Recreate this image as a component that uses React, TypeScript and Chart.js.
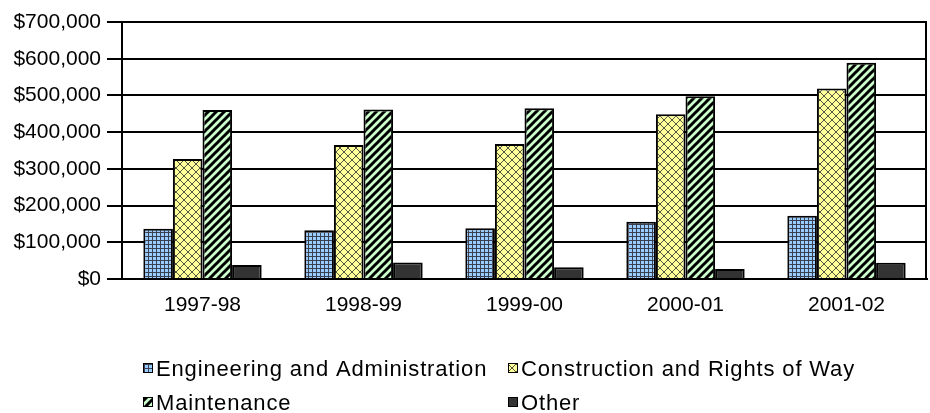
import React, { useEffect, useRef } from 'react';
import { Chart, registerables } from 'chart.js';

Chart.register(...registerables);

const categories = ['1997-98', '1998-99', '1999-00', '2000-01', '2001-02'];
const engineering = [137000, 133000, 138000, 156000, 172000];
const construction = [327000, 365000, 368000, 449000, 519000];
const maintenance = [460000, 462000, 465000, 498000, 589000];
const other = [38000, 45000, 32000, 27000, 44000];
const seriesNames = [
  'Engineering and Administration',
  'Construction and Rights of Way',
  'Maintenance',
  'Other',
];
const yMin = 0;
const yMax = 700000;
const yStep = 100000;

const FONT = '"Liberation Sans", Arial, sans-serif';

function makeTile(size: number, draw: (c: CanvasRenderingContext2D) => void): CanvasPattern {
  const cv = document.createElement('canvas');
  cv.width = size;
  cv.height = size;
  const c = cv.getContext('2d')!;
  draw(c);
  return c.createPattern(cv, 'repeat')!;
}

function makePatterns() {
  const grid = makeTile(4, (c) => {
    c.fillStyle = '#99ccff';
    c.fillRect(0, 0, 4, 4);
    c.fillStyle = '#3a4050';
    c.fillRect(0, 0, 4, 1);
    c.fillRect(0, 0, 1, 4);
  });
  const cross = makeTile(8, (c) => {
    c.fillStyle = '#ffff99';
    c.fillRect(0, 0, 8, 8);
    c.strokeStyle = '#555544';
    c.lineWidth = 1;
    c.beginPath();
    c.moveTo(-1, -1);
    c.lineTo(9, 9);
    c.moveTo(-1, 9);
    c.lineTo(9, -1);
    c.stroke();
  });
  const stripe = makeTile(8, (c) => {
    c.fillStyle = '#ccffcc';
    c.fillRect(0, 0, 8, 8);
    c.strokeStyle = '#000000';
    c.lineWidth = 3;
    c.beginPath();
    c.moveTo(-2, 10);
    c.lineTo(10, -2);
    c.moveTo(-6, 6);
    c.lineTo(6, -6);
    c.moveTo(2, 14);
    c.lineTo(14, 2);
    c.stroke();
  });
  return [grid, cross, stripe, '#333333'] as (CanvasPattern | string)[];
}

export default function App() {
  const ref = useRef<HTMLCanvasElement>(null);

  useEffect(() => {
    if (!ref.current) return;
    const fills = makePatterns();

    const frameAndLegend = {
      id: 'frameAndLegend',
      afterDraw(chart: any) {
        const ctx = chart.ctx as CanvasRenderingContext2D;
        const a = chart.chartArea;
        ctx.save();
        ctx.strokeStyle = '#000';
        ctx.lineWidth = 2;
        ctx.beginPath();
        ctx.moveTo(a.right - 1, a.top);
        ctx.lineTo(a.right - 1, a.bottom);
        ctx.stroke();

        const cols = [143, 508];
        const rows = [376, 410];
        ctx.font = `22px ${FONT}`;
        (ctx as any).letterSpacing = '0.85px';
        ctx.textBaseline = 'alphabetic';
        ctx.textAlign = 'left';
        seriesNames.forEach((name, i) => {
          const x = cols[i % 2];
          const y = rows[Math.floor(i / 2)];
          ctx.fillStyle = fills[i] as any;
          ctx.fillRect(x, y - 13, 10, 10);
          ctx.strokeStyle = '#000';
          ctx.lineWidth = 1;
          ctx.strokeRect(x + 0.5, y - 12.5, 9, 9);
          ctx.fillStyle = '#000';
          ctx.fillText(name, x + 13, y);
        });
        (ctx as any).letterSpacing = '0px';
        ctx.restore();
      },
    };

    const seriesData = [engineering, construction, maintenance, other];
    const chart = new Chart(ref.current, {
      type: 'bar',
      data: {
        labels: categories,
        datasets: seriesNames.map((name, i) => ({
          label: name,
          data: seriesData[i],
          backgroundColor: fills[i] as any,
          borderColor: '#000000',
          borderWidth: 2,
          categoryPercentage: 0.735,
          barPercentage: 1.0,
        })),
      },
      options: {
        animation: false,
        responsive: false,
        devicePixelRatio: 1,
        layout: { padding: { left: 0, right: 3, top: 22, bottom: 0 } },
        plugins: {
          legend: { display: false },
          tooltip: { enabled: false },
        },
        scales: {
          x: {
            grid: { display: false, drawTicks: false },
            border: { display: true, color: '#000', width: 2 },
            ticks: {
              color: '#000',
              font: { family: FONT, size: 21 },
              padding: 14,
              maxRotation: 0,
            },
            afterFit(scale: any) {
              scale.height = 134;
            },
          },
          y: {
            min: yMin,
            max: yMax,
            ticks: {
              stepSize: yStep,
              color: '#000',
              font: { family: FONT, size: 21 },
              padding: 6,
              callback: (v: any) => '$' + Number(v).toLocaleString('en-US'),
            },
            grid: {
              color: '#000',
              lineWidth: 2,
              drawTicks: true,
              tickLength: 15,
              tickColor: '#000',
            },
            border: { display: true, color: '#000', width: 2 },
            afterFit(scale: any) {
              scale.width = 122;
            },
          },
        },
      },
      plugins: [frameAndLegend],
    });
    return () => chart.destroy();
  }, []);

  return (
    <div style={{ position: 'fixed', left: 0, top: 0, width: 930, height: 413, background: '#fff' }}>
      <canvas ref={ref} width={930} height={413} style={{ width: 930, height: 413 }} />
    </div>
  );
}
